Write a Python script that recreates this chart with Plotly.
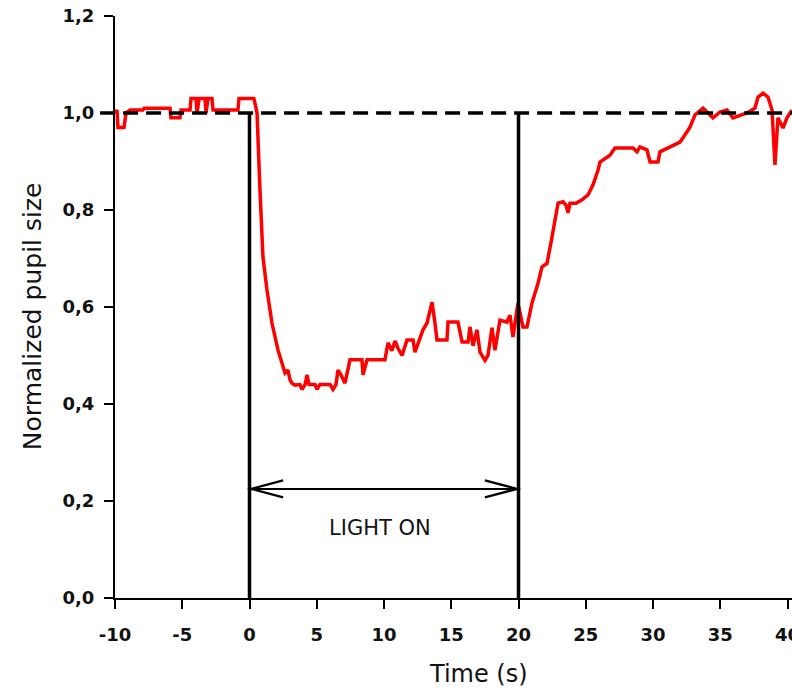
import plotly.graph_objects as go

# ---- data ----
time_s = [
    -10.0, -9.85, -9.78, -9.33, -9.18, -8.88, -7.92, -7.84, -5.91, -5.84,
    -5.17, -5.09, -4.42, -4.35, -3.98, -3.90, -3.75, -3.31, -3.23, -3.09,
    -2.79, -2.71, -0.86, -0.78, 0.33, 0.56, 0.78, 1.00, 1.30, 1.67,
    2.12, 2.64, 2.86, 3.01, 3.16, 3.38, 3.75, 3.90, 4.13, 4.28,
    4.42, 4.87, 5.02, 5.24, 5.99, 6.21, 6.43, 6.58, 6.80, 7.10,
    7.47, 8.36, 8.44, 8.74, 10.07, 10.30, 10.59, 10.82, 11.04, 11.34,
    11.71, 12.16, 12.30, 12.68, 12.90, 13.20, 13.57, 13.79, 13.94, 14.68,
    14.76, 15.50, 15.80, 16.25, 16.39, 16.62, 16.91, 17.14, 17.51, 17.73,
    18.03, 18.25, 18.62, 19.14, 19.37, 19.59, 19.96, 20.33, 20.63, 21.00,
    21.45, 21.75, 22.12, 22.49, 22.94, 23.31, 23.53, 23.68, 23.83, 24.28,
    24.72, 25.17, 25.54, 25.91, 26.06, 26.80, 27.17, 28.51, 28.81, 29.03,
    29.55, 29.78, 30.37, 30.52, 31.26, 32.01, 32.38, 32.75, 33.12, 33.72,
    34.09, 34.46, 34.98, 35.50, 35.95, 36.99, 37.58, 37.81, 38.18, 38.55,
    38.85, 39.07, 39.29, 39.67, 39.96, 40.33,
]
pupil_size = [
    1.0, 1.006, 0.97, 0.97, 1.0, 1.006, 1.006, 1.01, 1.01, 0.99,
    0.99, 1.006, 1.006, 1.03, 1.03, 1.0, 1.03, 1.03, 1.0, 1.03,
    1.03, 1.006, 1.006, 1.03, 1.03, 1.0, 0.841, 0.703, 0.635, 0.567,
    0.511, 0.464, 0.47, 0.45, 0.443, 0.439, 0.44, 0.43, 0.44, 0.46,
    0.44, 0.44, 0.43, 0.44, 0.44, 0.43, 0.44, 0.47, 0.46, 0.443,
    0.491, 0.491, 0.46, 0.491, 0.491, 0.526, 0.51, 0.53, 0.515, 0.50,
    0.532, 0.532, 0.507, 0.538, 0.553, 0.567, 0.61, 0.567, 0.532, 0.532,
    0.569, 0.569, 0.528, 0.528, 0.559, 0.52, 0.553, 0.507, 0.49, 0.50,
    0.557, 0.511, 0.573, 0.569, 0.583, 0.538, 0.608, 0.559, 0.559, 0.608,
    0.649, 0.683, 0.69, 0.744, 0.814, 0.817, 0.81, 0.794, 0.814, 0.814,
    0.821, 0.831, 0.852, 0.882, 0.899, 0.913, 0.928, 0.928, 0.92, 0.93,
    0.924, 0.899, 0.899, 0.92, 0.93, 0.94, 0.955, 0.971, 0.996, 1.01,
    1.0, 0.99, 1.002, 1.006, 0.99, 1.0, 1.01, 1.033, 1.041, 1.033,
    1.006, 0.893, 0.99, 0.969, 0.99, 1.006,
]

baseline_level = 1.0
light_on_start = 0
light_on_end = 20
light_label = "LIGHT ON"
arrow_level = 0.225

x_tickvals = [-10, -5, 0, 5, 10, 15, 20, 25, 30, 35, 40]
x_ticktext = ["-10", "-5", "0", "5", "10", "15", "20", "25", "30", "35", "40"]
y_tickvals = [0.0, 0.2, 0.4, 0.6, 0.8, 1.0, 1.2]
y_ticktext = ["0,0", "0,2", "0,4", "0,6", "0,8", "1,0", "1,2"]

FONT = "DejaVu Sans"
INK = "#111111"
TICKFONT = dict(family=FONT, size=18, color=INK, weight="bold")

fig = go.Figure()
fig.add_trace(go.Scatter(
    x=time_s, y=pupil_size, mode="lines",
    line=dict(color="#ff0000", width=3.5), hoverinfo="skip", showlegend=False,
))

shapes = []
# dashed baseline
shapes.append(dict(type="line", xref="paper", yref="y", x0=-0.022, x1=1.0,
                   y0=baseline_level, y1=baseline_level, layer="above",
                   line=dict(color="black", width=3.5, dash="15px,8px")))
# light on / off verticals
for xv in (light_on_start, light_on_end):
    shapes.append(dict(type="line", xref="x", yref="y", x0=xv, x1=xv,
                       y0=0, y1=baseline_level, layer="above",
                       line=dict(color="black", width=3.5)))
# double-headed arrow
shapes.append(dict(type="line", xref="x", yref="y", x0=light_on_start + 0.1,
                   x1=light_on_end - 0.1, y0=arrow_level, y1=arrow_level,
                   line=dict(color="black", width=2)))
hx, hy = 2.4, 0.0175
for tip, d in ((light_on_start + 0.1, 1), (light_on_end - 0.1, -1)):
    shapes.append(dict(type="path", xref="x", yref="y",
                       path=f"M {tip + d*hx},{arrow_level + hy} L {tip},{arrow_level} L {tip + d*hx},{arrow_level - hy}",
                       line=dict(color="black", width=2.2)))

annotations = [
    dict(x=(light_on_start + light_on_end) / 2 - 0.3, y=0.144, xref="x", yref="y",
         text=light_label, showarrow=False, font=dict(family=FONT, size=21, color=INK)),
    dict(x=(478 - 115) / 677, y=-0.13, xref="paper", yref="paper",
         text="Time (s)", showarrow=False, yanchor="middle",
         font=dict(family=FONT, size=24, color=INK)),
    dict(x=-0.122, y=0.485, xref="paper", yref="paper", textangle=-90,
         text="Normalized pupil size", showarrow=False, xanchor="center",
         font=dict(family=FONT, size=25, color=INK)),
    # last tick label, partly cut by the right edge as in the reference
    dict(x=x_tickvals[-1], y=-0.063, xref="x", yref="paper",
         text=x_ticktext[-1], showarrow=False, xanchor="center", yanchor="middle",
         font=TICKFONT),
]

fig.update_layout(
    width=792, height=690,
    margin=dict(l=115, r=0, t=16, b=92),
    paper_bgcolor="white", plot_bgcolor="white",
    shapes=shapes, annotations=annotations,
    showlegend=False,
    xaxis=dict(range=[-10, -10 + 677 / 13.45], tickvals=x_tickvals, ticktext=x_ticktext,
               automargin=False,
               showgrid=False, zeroline=False, showline=True, linecolor="black", linewidth=2,
               ticks="outside", ticklen=9, tickwidth=2, tickcolor="black",
               ticklabelstandoff=10, tickfont=TICKFONT),
    yaxis=dict(range=[0, 1.2], tickvals=y_tickvals, ticktext=y_ticktext,
               automargin=False,
               showgrid=False, zeroline=False, showline=True, linecolor="black", linewidth=2,
               ticks="outside", ticklen=9, tickwidth=2, tickcolor="black",
               ticklabelstandoff=6, tickfont=TICKFONT),
)

fig.write_html(
    "out.html",
    config={"displayModeBar": False},
    post_script="document.body.style.margin='0';document.body.style.overflow='hidden';",
)
